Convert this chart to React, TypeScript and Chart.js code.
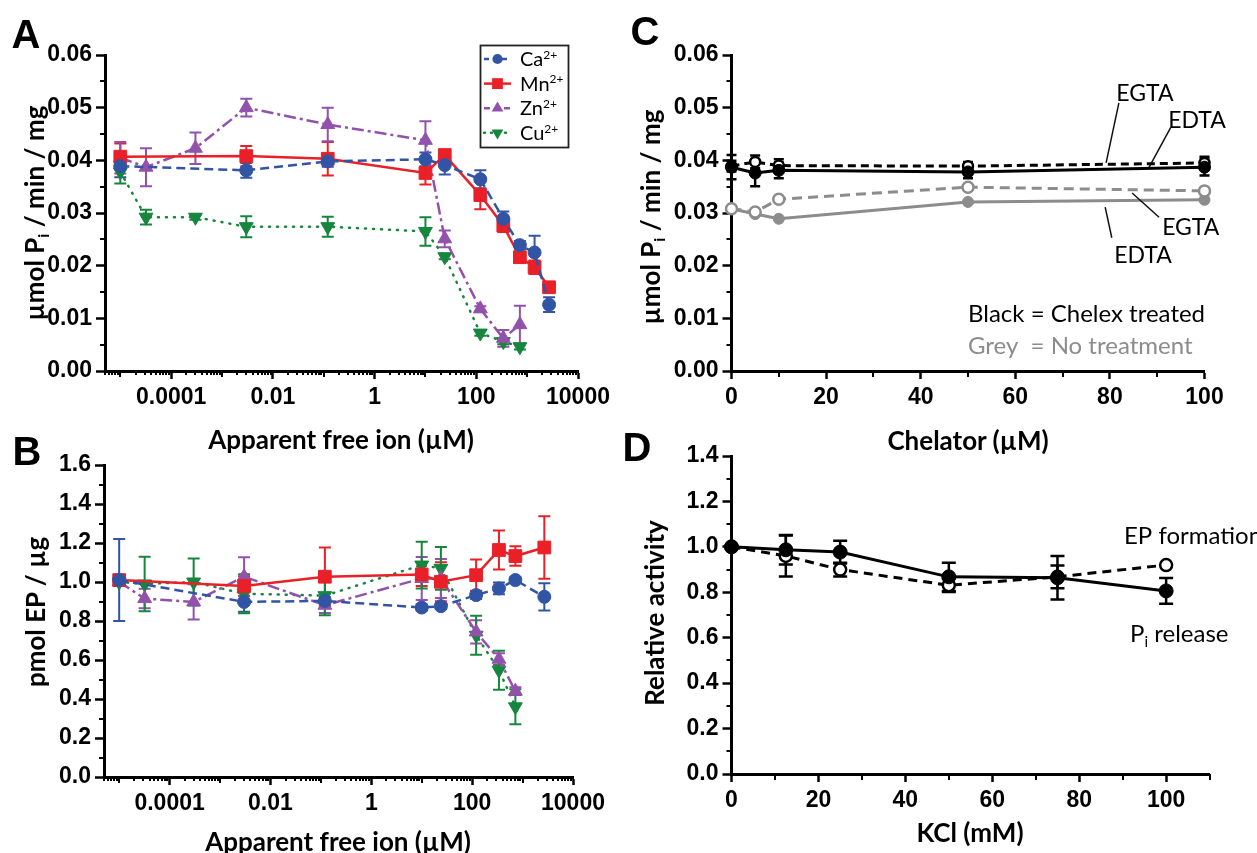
import React, { useEffect, useRef } from "react";
import { Chart, registerables } from "chart.js";

Chart.register(...registerables);
Chart.defaults.font.family = "'Liberation Sans', Arial, sans-serif";

// ---------------- tick labels ----------------
const logTickValues = [1e-4, 1e-2, 1, 100, 1e4];
const logTickLabels = ["0.0001", "0.01", "1", "100", "10000"];
const piTicks = [0, 0.01, 0.02, 0.03, 0.04, 0.05, 0.06];
const piTickLabels = ["0.00", "0.01", "0.02", "0.03", "0.04", "0.05", "0.06"];
const epTicks = [0, 0.2, 0.4, 0.6, 0.8, 1.0, 1.2, 1.4, 1.6];
const epTickLabels = ["0.0", "0.2", "0.4", "0.6", "0.8", "1.0", "1.2", "1.4", "1.6"];
const relTicks = [0, 0.2, 0.4, 0.6, 0.8, 1.0, 1.2, 1.4];
const relTickLabels = ["0.0", "0.2", "0.4", "0.6", "0.8", "1.0", "1.2", "1.4"];
const chelTicks = [0, 20, 40, 60, 80, 100];
const chelTickLabels = ["0", "20", "40", "60", "80", "100"];
const kclTicks = [0, 20, 40, 60, 80, 100];
const kclTickLabels = ["0", "20", "40", "60", "80", "100"];
const piMinor = [0.005, 0.015, 0.025, 0.035, 0.045, 0.055];
const epMinor = [0.1, 0.3, 0.5, 0.7, 0.9, 1.1, 1.3, 1.5];
const relMinor = [0.1, 0.3, 0.5, 0.7, 0.9, 1.1, 1.3];
const chelMinor = [10, 30, 50, 70, 90];
const kclMinor = [10, 30, 50, 70, 90, 110];

// ---------------- Panel A: Pi release vs free ion ----------------
const caPiX = [1e-5, 3e-3, 0.12, 10, 24, 120, 340, 720, 1400, 2700];
const caPiY = [0.0389, 0.0381, 0.0398, 0.0402, 0.0391, 0.0364, 0.0289, 0.0239, 0.0225, 0.0126];
const caPiErr = [0.0021, 0.0014, 0.001, 0.0013, 0.0018, 0.0017, 0.0014, 0.0008, 0.0032, 0.0014];
const mnPiX = [1e-5, 3e-3, 0.12, 10, 24, 120, 340, 720, 1400, 2700];
const mnPiY = [0.0407, 0.0408, 0.0403, 0.0376, 0.041, 0.0334, 0.0276, 0.0216, 0.0197, 0.0159];
const mnPiErr = [0.0025, 0.0019, 0.0032, 0.0022, 0.001, 0.0027, 0.0012, 0.001, 0.0013, 0.0005];
const znPiX = [1e-5, 3.2e-5, 3e-4, 3e-3, 0.12, 10, 24, 120, 340, 720];
const znPiY = [0.0405, 0.0387, 0.0423, 0.05, 0.0468, 0.0438, 0.0251, 0.0118, 0.0062, 0.0088];
const znPiErr = [0.003, 0.0036, 0.003, 0.0017, 0.0032, 0.0036, 0.0016, 0.0005, 0.0016, 0.0036];
const cuPiX = [1e-5, 3.2e-5, 3e-4, 3e-3, 0.12, 10, 24, 120, 340, 720];
const cuPiY = [0.0378, 0.0292, 0.0292, 0.0274, 0.0274, 0.0265, 0.0217, 0.0072, 0.0056, 0.0046];
const cuPiErr = [0.0022, 0.0014, 0.0005, 0.002, 0.0019, 0.0027, 0.0005, 0.0005, 0.0005, 0.0005];

// ---------------- Panel B: EP formation vs free ion ----------------
const caEpX = [1e-5, 3e-3, 0.12, 10, 24, 120, 340, 720, 2700];
const caEpY = [1.01, 0.898, 0.903, 0.869, 0.876, 0.933, 0.967, 1.01, 0.924];
const caEpErr = [0.21, 0.05, 0.02, 0.015, 0.015, 0.02, 0.03, 0.015, 0.07];
const mnEpX = [1e-5, 3e-3, 0.12, 10, 24, 120, 340, 720, 2700];
const mnEpY = [1.01, 0.979, 1.027, 1.039, 1.001, 1.035, 1.164, 1.133, 1.177];
const mnEpErr = [0.02, 0.05, 0.15, 0.06, 0.1, 0.08, 0.1, 0.05, 0.16];
const znEpX = [1e-5, 3.2e-5, 3e-4, 3e-3, 0.12, 10, 24, 120, 340, 720];
const znEpY = [1.0, 0.915, 0.898, 1.027, 0.881, 1.018, 1.018, 0.744, 0.604, 0.44];
const znEpErr = [0.02, 0.05, 0.09, 0.1, 0.04, 0.11, 0.1, 0.06, 0.03, 0.02];
const cuEpX = [1e-5, 3.2e-5, 3e-4, 3e-3, 0.12, 10, 24, 120, 340, 720];
const cuEpY = [1.0, 0.99, 1.0, 0.94, 0.93, 1.087, 1.07, 0.727, 0.548, 0.36];
const cuEpErr = [0, 0.14, 0.12, 0.1, 0.1, 0.12, 0.11, 0.1, 0.1, 0.09];

// ---------------- Panel C: chelators ----------------
const chelX = [0, 5, 10, 50, 100];
const chelexEdtaY = [0.0387, 0.0376, 0.0381, 0.0378, 0.0387];
const chelexEdtaErr = [0.0023, 0.0025, 0.0015, 0.0012, 0.0016];
const chelexEgtaY = [0.0389, 0.0397, 0.039, 0.0389, 0.0395];
const chelexEgtaErr = [0.001, 0.0012, 0.0012, 0.0008, 0.0012];
const noTreatEgtaY = [0.0308, 0.0302, 0.0326, 0.0349, 0.0342];
const noTreatEgtaErr = [0.0003, 0.0003, 0.0004, 0.0004, 0.0004];
const noTreatEdtaY = [0.0308, 0.0298, 0.0289, 0.0321, 0.0325];
const noTreatEdtaErr = [0, 0, 0, 0, 0];

// ---------------- Panel D: KCl ----------------
const kclX = [0, 12.5, 25, 50, 75, 100];
const piReleaseY = [1.0, 0.987, 0.977, 0.868, 0.864, 0.806];
const piReleaseErr = [0, 0.065, 0.05, 0.062, 0.096, 0.057];
const epFormY = [1.0, 0.96, 0.9, 0.831, 0.868, 0.92];
const epFormErr = [0, 0.09, 0.03, 0.03, 0.05, 0];

// ---------------- styles ----------------
const BLUE = "rgb(49,84,165)";
const RED = "rgb(234,32,40)";
const PURPLE = "rgb(146,82,172)";
const GREEN = "rgb(22,134,62)";
const GREY = "rgb(140,140,140)";
const BLACK = "#000";
const TICK_FONT = { family: "'Liberation Sans', Arial, sans-serif", size: 23, weight: "bold" as const };
const TEXT_FAMILY = "Lato, 'Open Sans', sans-serif";

type Seg = { t: string; sub?: boolean; sup?: boolean };

function drawSegs(ctx: any, segs: Seg[], x: number, y: number, size: number, color: string, align: string) {
  const fontFor = (s: Seg) => `normal ${s.sub || s.sup ? Math.round(size * 0.62) : size}px ${TEXT_FAMILY}`;
  let total = 0;
  segs.forEach((s) => {
    ctx.font = fontFor(s);
    total += ctx.measureText(s.t).width;
  });
  let cx = align === "center" ? x - total / 2 : align === "right" ? x - total : x;
  ctx.textBaseline = "alphabetic";
  ctx.textAlign = "left";
  ctx.fillStyle = color;
  segs.forEach((s) => {
    ctx.font = fontFor(s);
    const dy = s.sub ? size * 0.22 : s.sup ? -size * 0.36 : 0;
    ctx.fillText(s.t, cx, y + dy);
    cx += ctx.measureText(s.t).width;
  });
}

function drawMarker(ctx: any, style: string, x: number, y: number, r: number, color: string) {
  ctx.save();
  ctx.fillStyle = color;
  ctx.beginPath();
  if (style === "circle") {
    ctx.arc(x, y, r, 0, Math.PI * 2);
  } else if (style === "rect") {
    const h = r * Math.SQRT1_2;
    ctx.rect(x - h, y - h, 2 * h, 2 * h);
  } else if (style === "triangle") {
    ctx.moveTo(x, y - r);
    ctx.lineTo(x + r * 0.866, y + r * 0.5);
    ctx.lineTo(x - r * 0.866, y + r * 0.5);
    ctx.closePath();
  } else if (style === "triangleDown") {
    ctx.moveTo(x, y + r);
    ctx.lineTo(x + r * 0.866, y - r * 0.5);
    ctx.lineTo(x - r * 0.866, y - r * 0.5);
    ctx.closePath();
  }
  ctx.fill();
  ctx.restore();
}

// ---------------- plugins ----------------
function errorBars(cap: number, width: number) {
  return {
    id: "errorBars",
    beforeDatasetsDraw(chart: any) {
      const ctx = chart.ctx;
      const ys = chart.scales.y;
      chart.data.datasets.forEach((ds: any, i: number) => {
        const errs = ds.errors;
        if (!errs) return;
        const meta = chart.getDatasetMeta(i);
        ctx.save();
        ctx.strokeStyle = ds.errorColor || ds.borderColor;
        ctx.lineWidth = width;
        ctx.setLineDash([]);
        meta.data.forEach((pt: any, j: number) => {
          const e = errs[j];
          if (!e) return;
          const v = ds.data[j].y;
          const x = pt.x;
          const y1 = ys.getPixelForValue(v + e);
          const y2 = ys.getPixelForValue(v - e);
          ctx.beginPath();
          ctx.moveTo(x, y1);
          ctx.lineTo(x, y2);
          ctx.moveTo(x - cap, y1);
          ctx.lineTo(x + cap, y1);
          ctx.moveTo(x - cap, y2);
          ctx.lineTo(x + cap, y2);
          ctx.stroke();
        });
        ctx.restore();
      });
    },
  };
}

function minorTicks(yVals: number[], yLen: number, xVals: { v: number; len: number }[]) {
  return {
    id: "minorTicks",
    afterDraw(chart: any) {
      const { ctx, chartArea, scales } = chart;
      ctx.save();
      ctx.strokeStyle = "#000";
      ctx.lineWidth = 2;
      yVals.forEach((v) => {
        const py = Math.round(scales.y.getPixelForValue(v));
        ctx.beginPath();
        ctx.moveTo(chartArea.left - yLen, py);
        ctx.lineTo(chartArea.left, py);
        ctx.stroke();
      });
      xVals.forEach((m) => {
        const px = Math.round(scales.x.getPixelForValue(m.v));
        ctx.beginPath();
        ctx.moveTo(px, chartArea.bottom);
        ctx.lineTo(px, chartArea.bottom + m.len);
        ctx.stroke();
      });
      ctx.restore();
    },
  };
}

type Annot =
  | { kind: "text"; x: number; y: number; segs: Seg[]; color: string; size: number; align: string }
  | { kind: "line"; x1: number; y1: number; x2: number; y2: number; color: string; width: number };

function annotations(items: Annot[]) {
  return {
    id: "annotations",
    afterDraw(chart: any) {
      const { ctx, scales } = chart;
      ctx.save();
      items.forEach((it) => {
        if (it.kind === "line") {
          ctx.strokeStyle = it.color;
          ctx.lineWidth = it.width;
          ctx.setLineDash([]);
          ctx.beginPath();
          ctx.moveTo(scales.x.getPixelForValue(it.x1), scales.y.getPixelForValue(it.y1));
          ctx.lineTo(scales.x.getPixelForValue(it.x2), scales.y.getPixelForValue(it.y2));
          ctx.stroke();
        } else {
          drawSegs(ctx, it.segs, scales.x.getPixelForValue(it.x), scales.y.getPixelForValue(it.y), it.size, it.color, it.align);
        }
      });
      ctx.restore();
    },
  };
}

const legendEntries = [
  { name: "Ca", color: BLUE, dash: [5, 4], style: "circle", r: 6, cap: "butt" },
  { name: "Mn", color: RED, dash: [], style: "rect", r: 9, cap: "butt" },
  { name: "Zn", color: PURPLE, dash: [6, 4], style: "triangle", r: 8, cap: "butt" },
  { name: "Cu", color: GREEN, dash: [1, 6], style: "triangleDown", r: 8, cap: "round" },
];

const legendA = {
  id: "legendA",
  afterDraw(chart: any) {
    const ctx = chart.ctx;
    const left = 480;
    const top = 45;
    ctx.save();
    ctx.strokeStyle = "#222";
    ctx.lineWidth = 1.8;
    ctx.strokeRect(left + 0.5, top + 0.5, 88, 102);
    legendEntries.forEach((e, i) => {
      const y = top + 14 + i * 24.6;
      ctx.strokeStyle = e.color;
      ctx.lineWidth = 2.5;
      ctx.lineCap = e.cap;
      ctx.setLineDash(e.dash);
      ctx.beginPath();
      ctx.moveTo(left + 4, y);
      ctx.lineTo(left + 31, y);
      ctx.stroke();
      drawMarker(ctx, e.style, left + 17.5, y, e.r * 0.85, e.color);
      drawSegs(ctx, [{ t: e.name }, { t: "2+", sup: true }], left + 40, y + 7, 20, "#000", "left");
    });
    ctx.restore();
  },
};

// ---------------- chart builders ----------------
function series(xs: number[], ys: number[], errs: number[] | null, color: string, o: any) {
  return {
    data: xs.map((x, i) => ({ x, y: ys[i] })),
    errors: errs,
    errorColor: o.errColor ?? color,
    borderColor: color,
    backgroundColor: color,
    borderWidth: o.lw ?? 2.5,
    borderDash: o.dash ?? [],
    borderCapStyle: o.cap ?? "butt",
    pointStyle: o.style ?? "circle",
    pointRadius: o.r ?? 6,
    pointRotation: o.rot ?? 0,
    pointBackgroundColor: o.fill ?? color,
    pointBorderColor: o.stroke ?? color,
    pointBorderWidth: o.pbw ?? 1,
    fill: false,
    tension: 0,
    clip: false,
  };
}

function yAxis(ticks: number[], labels: string[], width: number) {
  return {
    type: "linear",
    min: ticks[0],
    max: ticks[ticks.length - 1],
    afterBuildTicks: (s: any) => {
      s.ticks = ticks.map((v) => ({ value: v }));
    },
    ticks: { font: TICK_FONT, color: "#000", padding: 4, autoSkip: false, callback: (_v: any, i: number) => labels[i] },
    grid: { drawOnChartArea: false, drawTicks: true, tickLength: 9, tickWidth: 2.5, tickColor: "#000" },
    border: { color: "#000", width: 3 },
    afterFit: (s: any) => {
      s.width = width;
    },
  };
}

function xLinear(ticks: number[], labels: string[], max: number, height: number) {
  return {
    type: "linear",
    min: 0,
    max,
    afterBuildTicks: (s: any) => {
      s.ticks = ticks.map((v) => ({ value: v }));
    },
    ticks: { font: TICK_FONT, color: "#000", padding: 5, autoSkip: false, maxRotation: 0, callback: (_v: any, i: number) => labels[i] },
    grid: { drawOnChartArea: false, drawTicks: true, tickLength: 8, tickWidth: 2.5, tickColor: "#000" },
    border: { color: "#000", width: 3 },
    afterFit: (s: any) => {
      s.height = height;
    },
  };
}

function xLog(height: number) {
  return {
    type: "logarithmic",
    min: 5e-6,
    max: 1e4,
    afterBuildTicks: (s: any) => {
      s.ticks = logTickValues.map((v) => ({ value: v }));
    },
    ticks: { font: TICK_FONT, color: "#000", padding: 5, autoSkip: false, maxRotation: 0, callback: (_v: any, i: number) => logTickLabels[i] },
    grid: { drawOnChartArea: false, drawTicks: true, tickLength: 8, tickWidth: 2.5, tickColor: "#000" },
    border: { color: "#000", width: 3 },
    afterFit: (s: any) => {
      s.height = height;
    },
  };
}

function logMinor() {
  const out: { v: number; len: number }[] = [];
  for (let k = -6; k <= 4; k++) {
    for (let m = 1; m <= 9; m++) {
      const v = m * Math.pow(10, k);
      if (v < 5e-6 * 0.999 || v > 1e4 * 1.001) continue;
      if (m === 1 && k % 2 === 0) continue;
      out.push({ v, len: m === 1 ? 6 : 4 });
    }
  }
  return out;
}

function baseOptions(pad: any, x: any, y: any) {
  return {
    responsive: false,
    animation: false,
    devicePixelRatio: 1,
    layout: { padding: pad },
    plugins: { legend: { display: false }, tooltip: { enabled: false } },
    scales: { x, y },
  };
}

function configA() {
  return {
    type: "line",
    data: {
      datasets: [
        series(caPiX, caPiY, caPiErr, BLUE, { dash: [9, 5], style: "circle", r: 6.5 }),
        series(mnPiX, mnPiY, mnPiErr, RED, { style: "rect", r: 9 }),
        series(znPiX, znPiY, znPiErr, PURPLE, { dash: [12, 4, 3, 4], style: "triangle", r: 8 }),
        series(cuPiX, cuPiY, cuPiErr, GREEN, { dash: [1, 7], cap: "round", style: "triangle", rot: 180, r: 8 }),
      ],
    },
    options: baseOptions({ left: 0, top: 55, right: 52, bottom: 0 }, xLog(49), yAxis(piTicks, piTickLabels, 105)),
    plugins: [errorBars(6, 2), minorTicks(piMinor, 5, logMinor()), legendA],
  };
}

function configB() {
  return {
    type: "line",
    data: {
      datasets: [
        series(caEpX, caEpY, caEpErr, BLUE, { dash: [9, 5], style: "circle", r: 6.5 }),
        series(mnEpX, mnEpY, mnEpErr, RED, { style: "rect", r: 9 }),
        series(znEpX, znEpY, znEpErr, PURPLE, { dash: [12, 4, 3, 4], style: "triangle", r: 8 }),
        series(cuEpX, cuEpY, cuEpErr, GREEN, { dash: [1, 7], cap: "round", style: "triangle", rot: 180, r: 8 }),
      ],
    },
    options: baseOptions({ left: 0, top: 40, right: 57, bottom: 0 }, xLog(76), yAxis(epTicks, epTickLabels, 104)),
    plugins: [errorBars(6, 2), minorTicks(epMinor, 5, logMinor())],
  };
}

const chelAnnots: Annot[] = [
  { kind: "text", x: 87.4, y: 0.0513, segs: [{ t: "EGTA" }], color: "#000", size: 23, align: "center" },
  { kind: "text", x: 98.4, y: 0.0461, segs: [{ t: "EDTA" }], color: "#000", size: 23, align: "center" },
  { kind: "text", x: 97.1, y: 0.0258, segs: [{ t: "EGTA" }], color: "#000", size: 23, align: "center" },
  { kind: "text", x: 87.0, y: 0.0205, segs: [{ t: "EDTA" }], color: "#000", size: 23, align: "center" },
  { kind: "line", x1: 81.9, y1: 0.0509, x2: 79.2, y2: 0.0395, color: "#111", width: 1.5 },
  { kind: "line", x1: 92.9, y1: 0.0463, x2: 88.3, y2: 0.0387, color: "#111", width: 1.5 },
  { kind: "line", x1: 84.7, y1: 0.0338, x2: 90.4, y2: 0.0292, color: "#111", width: 1.5 },
  { kind: "line", x1: 79.0, y1: 0.0311, x2: 80.4, y2: 0.0253, color: "#111", width: 1.5 },
  { kind: "text", x: 50, y: 0.0093, segs: [{ t: "Black = Chelex treated" }], color: "#000", size: 24, align: "left" },
  { kind: "text", x: 50, y: 0.0032, segs: [{ t: "Grey  = No treatment" }], color: GREY, size: 24, align: "left" },
];

function configC() {
  return {
    type: "line",
    data: {
      datasets: [
        series(chelX, chelexEdtaY, chelexEdtaErr, BLACK, { style: "circle", r: 6, lw: 3 }),
        series(chelX, chelexEgtaY, chelexEgtaErr, BLACK, { dash: [8, 5], style: "circle", r: 5, lw: 3, fill: "#fff", pbw: 2.5 }),
        series(chelX, noTreatEgtaY, noTreatEgtaErr, GREY, { dash: [10, 6], style: "circle", r: 5.5, lw: 3, fill: "#fff", pbw: 2.5 }),
        series(chelX, noTreatEdtaY, noTreatEdtaErr, GREY, { style: "circle", r: 5.5, lw: 3 }),
      ],
    },
    options: baseOptions({ left: 0, top: 55, right: 52.5, bottom: 0 }, xLinear(chelTicks, chelTickLabels, 100, 49), yAxis(piTicks, piTickLabels, 103.5)),
    plugins: [errorBars(5, 2.5), minorTicks(piMinor, 5, chelMinor.map((v) => ({ v, len: 6 }))), annotations(chelAnnots)],
  };
}

const kclAnnots: Annot[] = [
  { kind: "text", x: 90.3, y: 1.013, segs: [{ t: "EP formation" }], color: "#000", size: 24, align: "left" },
  { kind: "text", x: 91.7, y: 0.581, segs: [{ t: "P" }, { t: "i", sub: true }, { t: " release" }], color: "#000", size: 24, align: "left" },
];

function configD() {
  return {
    type: "line",
    data: {
      datasets: [
        series(kclX, piReleaseY, piReleaseErr, BLACK, { style: "circle", r: 7, lw: 3 }),
        series(kclX, epFormY, epFormErr, BLACK, { dash: [9, 6], style: "circle", r: 6, lw: 3, fill: "#fff", pbw: 2.5 }),
      ],
    },
    options: baseOptions({ left: 0, top: 31, right: 47.4, bottom: 0 }, xLinear(kclTicks, kclTickLabels, 110, 79), yAxis(relTicks, relTickLabels, 103.5)),
    plugins: [errorBars(7, 2.5), minorTicks(relMinor, 5, kclMinor.map((v) => ({ v, len: 6 }))), annotations(kclAnnots)],
  };
}

// ---------------- components ----------------
function ChartCanvas({ left, top, width, height, make }: any) {
  const ref = useRef<HTMLCanvasElement | null>(null);
  useEffect(() => {
    const chart = new Chart(ref.current as any, make() as any);
    return () => chart.destroy();
  }, []);
  return (
    <canvas
      ref={ref}
      width={width}
      height={height}
      style={{ position: "absolute", left, top, width, height, display: "block" }}
    />
  );
}

function Label({ x, y, size, rotate, bold = true, family = TEXT_FAMILY, children }: any) {
  return (
    <div
      style={{
        position: "absolute",
        left: x,
        top: y,
        transform: `translate(-50%, -50%)${rotate ? " rotate(-90deg)" : ""}`,
        fontFamily: family,
        fontWeight: bold ? 700 : 400,
        fontSize: size,
        lineHeight: 1,
        whiteSpace: "nowrap",
        color: "#000",
      }}
    >
      {children}
    </div>
  );
}

const Sub = ({ children }: any) => (
  <span style={{ fontSize: "0.6em", verticalAlign: "-0.3em" }}>{children}</span>
);

const LETTER_FAMILY = "'Liberation Sans', Arial, sans-serif";

export default function App() {
  return (
    <div style={{ position: "fixed", left: 0, top: 0, width: 1257, height: 853, background: "#fff", overflow: "hidden" }}>
      <ChartCanvas left={0} top={0} width={630} height={420} make={configA} />
      <ChartCanvas left={0} top={425} width={630} height={428} make={configB} />
      <ChartCanvas left={628} top={0} width={629} height={420} make={configC} />
      <ChartCanvas left={628} top={425} width={629} height={428} make={configD} />

      <Label x={26} y={34} size={40} family={LETTER_FAMILY}>A</Label>
      <Label x={27} y={451} size={40} family={LETTER_FAMILY}>B</Label>
      <Label x={645} y={31} size={40} family={LETTER_FAMILY}>C</Label>
      <Label x={637} y={447} size={40} family={LETTER_FAMILY}>D</Label>

      <Label x={341} y={439} size={26}>Apparent free ion (µM)</Label>
      <Label x={338} y={841} size={26}>Apparent free ion (µM)</Label>
      <Label x={968} y={440} size={26}>Chelator (µM)</Label>
      <Label x={970} y={832} size={26}>KCl (mM)</Label>

      <Label x={36} y={213} size={26} rotate>
        µmol P<Sub>i</Sub> / min / mg
      </Label>
      <Label x={35} y={612} size={26} rotate>
        pmol EP / µg
      </Label>
      <Label x={652} y={217} size={26} rotate>
        µmol P<Sub>i</Sub> / min / mg
      </Label>
      <Label x={654} y={613} size={26} rotate>
        Relative activity
      </Label>
    </div>
  );
}
